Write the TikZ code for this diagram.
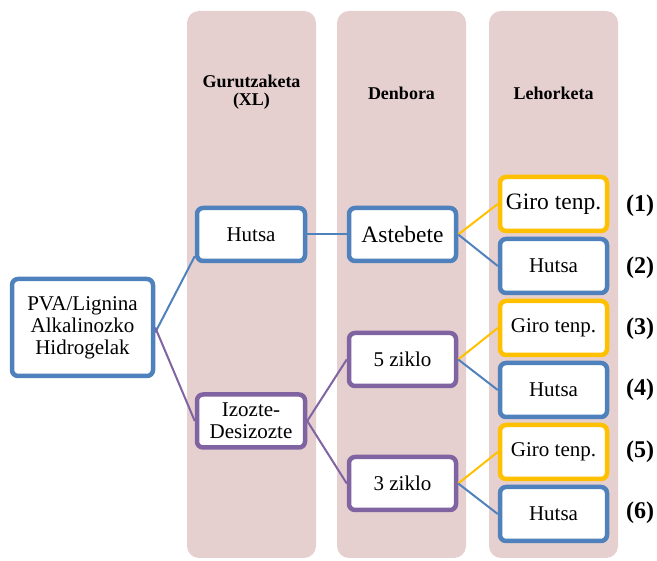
\documentclass[tikz,border=0pt]{standalone}
\usepackage{fontspec}
\setmainfont{Liberation Serif}
\definecolor{colbg}{RGB}{230,207,207}
\definecolor{cblue}{RGB}{79,129,189}
\definecolor{cpurple}{RGB}{128,100,162}
\definecolor{cyellow}{RGB}{255,192,0}
\begin{document}
\begin{tikzpicture}[x=1pt,y=-1pt,
  column/.style={fill=colbg,draw=none,rounded corners=12pt},
  header/.style={font=\fontsize{18}{18}\selectfont\bfseries,align=center,inner sep=0pt},
  box/.style={draw,line width=4.5pt,fill=white,rounded corners=6pt,align=center,inner sep=0pt,
    font=\fontsize{21}{22}\selectfont},
  bbox/.style={box,draw=cblue},
  pbox/.style={box,draw=cpurple},
  ybox/.style={box,draw=cyellow},
  xlbox/.style={minimum width=108pt,minimum height=53pt},
  tbox/.style={minimum width=107pt,minimum height=53pt},
  lbox/.style={minimum width=107pt,minimum height=54pt},
  num/.style={font=\fontsize{24}{24}\selectfont\bfseries,inner sep=0pt},
  conn/.style={line width=2pt}
]
\useasboundingbox (0,0) rectangle (657,561);
\fill[column] (187,11) rectangle (316,558);
\fill[column] (337,11) rectangle (466,558);
\fill[column] (489,11) rectangle (618,558);

\node[header] (h1) at (251.5,92) {Gurutzaketa\\(XL)};
\node[header] (h2) at (401.5,93) {Denbora};
\node[header] (h3) at (553.5,93) {Lehorketa};

\node[bbox,minimum width=141pt,minimum height=97pt] (pva) at (82.5,327.5) {PVA/Lignina\\Alkalinozko\\Hidrogelak};

\node[bbox,xlbox] (xlh) at (251,234.5) {Hutsa};
\node[pbox,xlbox] (xli) at (251,421) {Izozte-\\Desizozte};

\node[bbox,tbox,font=\fontsize{23.5}{24}\selectfont] (ast) at (402.5,234.5) {Astebete};
\node[pbox,tbox] (z5) at (402.5,359.5) {5 ziklo};
\node[pbox,tbox] (z3) at (402.5,483.5) {3 ziklo};

\node[ybox,lbox,font=\fontsize{23.5}{24}\selectfont] (l1) at (553.5,204) {Giro tenp.};
\node[bbox,lbox] (l2) at (553.5,266) {Hutsa};
\node[ybox,lbox] (l3) at (553.5,328) {Giro tenp.};
\node[bbox,lbox] (l4) at (553.5,390) {Hutsa};
\node[ybox,lbox] (l5) at (553.5,452) {Giro tenp.};
\node[bbox,lbox] (l6) at (553.5,514) {Hutsa};

\node[num] (n1) at (640,206) {(1)};
\node[num] (n2) at (640,268) {(2)};
\node[num] (n3) at (640,329) {(3)};
\node[num] (n4) at (640,390) {(4)};
\node[num] (n5) at (640,452) {(5)};
\node[num] (n6) at (640,513) {(6)};

\draw[conn,cblue] ([yshift=-5pt]pva.east) -- ([yshift=7pt]xlh.south west);
\draw[conn,cpurple] (pva.east) -- (xli.west);
\draw[conn,cblue] (xlh.east) -- (ast.west);
\draw[conn,cpurple] (xli.east) -- (z5.west);
\draw[conn,cpurple] (xli.east) -- (z3.west);
\draw[conn,cyellow] (ast.east) -- (l1.west);
\draw[conn,cblue] (ast.east) -- (l2.west);
\draw[conn,cyellow] (z5.east) -- (l3.west);
\draw[conn,cblue] (z5.east) -- (l4.west);
\draw[conn,cyellow] (z3.east) -- (l5.west);
\draw[conn,cblue] (z3.east) -- (l6.west);
\end{tikzpicture}
\end{document}
